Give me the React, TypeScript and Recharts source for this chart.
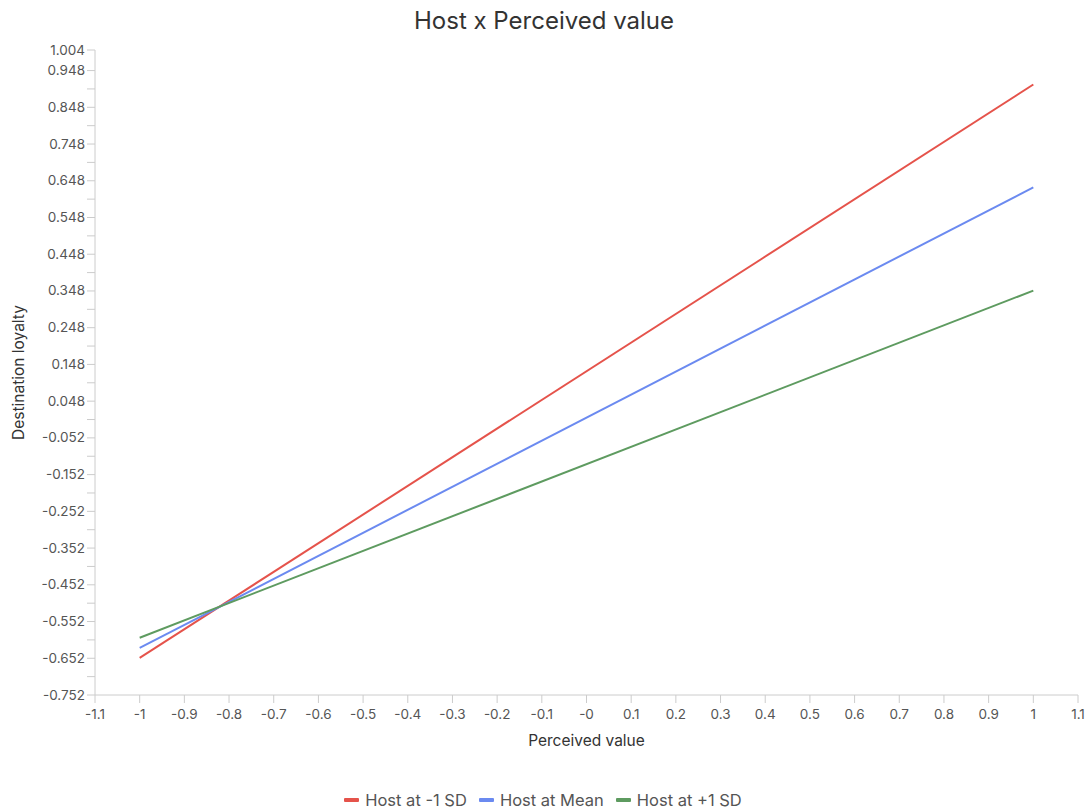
import { LineChart, Line, XAxis, YAxis, Legend } from "recharts";

// Perceived value at the two ends of each simple slope
const perceived = [-1, 1];
const hostLow = [-0.651, 0.91];
const hostMean = [-0.624, 0.63];
const hostHigh = [-0.596, 0.349];

const xTicks = [
  -1.1, -1, -0.9, -0.8, -0.7, -0.6, -0.5, -0.4, -0.3, -0.2, -0.1, 0, 0.1, 0.2,
  0.3, 0.4, 0.5, 0.6, 0.7, 0.8, 0.9, 1, 1.1,
];
const xTickLabels = [
  "-1.1", "-1", "-0.9", "-0.8", "-0.7", "-0.6", "-0.5", "-0.4", "-0.3", "-0.2",
  "-0.1", "-0", "0.1", "0.2", "0.3", "0.4", "0.5", "0.6", "0.7", "0.8", "0.9",
  "1", "1.1",
];

const yMajorTicks = [
  -0.752, -0.652, -0.552, -0.452, -0.352, -0.252, -0.152, -0.052, 0.048, 0.148,
  0.248, 0.348, 0.448, 0.548, 0.648, 0.748, 0.848, 0.948, 1.004,
];
const yMinorTicks = [
  -0.702, -0.602, -0.502, -0.402, -0.302, -0.202, -0.102, -0.002, 0.098, 0.198,
  0.298, 0.398, 0.498, 0.598, 0.698, 0.798, 0.898,
];

const series = [
  { key: "low", name: "Host at -1 SD", color: "#e5534b", values: hostLow },
  { key: "mean", name: "Host at Mean", color: "#6b8af0", values: hostMean },
  { key: "high", name: "Host at +1 SD", color: "#5e9b60", values: hostHigh },
];

const data = perceived.map((x, i) => {
  const row: { [k: string]: number } = { x };
  series.forEach((s) => {
    row[s.key] = s.values[i];
  });
  return row;
});

const yTicks = [...yMajorTicks, ...yMinorTicks].sort((a, b) => a - b);

const FONT = "Inter, 'Noto Sans', sans-serif";
const AXIS = "#cccccc";
const TEXT = "#555555";

function YTick(props: any) {
  const { x, y, payload } = props;
  const v = payload.value as number;
  const major = yMajorTicks.some((m) => Math.abs(m - v) < 1e-6);
  if (!major) return <g />;
  return (
    <text x={x} y={y} dy={4.5} textAnchor="end" fill={TEXT} fontSize={13.5} fontFamily={FONT}>
      {v.toFixed(3)}
    </text>
  );
}

function XTick(props: any) {
  const { x, y, payload } = props;
  const idx = xTicks.findIndex((t) => Math.abs(t - payload.value) < 1e-6);
  return (
    <text x={x} y={y} dy={14} textAnchor="middle" fill={TEXT} fontSize={13.5} fontFamily={FONT}>
      {idx >= 0 ? xTickLabels[idx] : payload.value}
    </text>
  );
}

function LegendContent() {
  return (
    <div
      style={{
        display: "flex",
        justifyContent: "center",
        gap: 12,
        fontFamily: FONT,
        fontSize: 16.5,
        color: TEXT,
        height: 24,
        alignItems: "center",
        paddingLeft: 8,
      }}
    >
      {series.map((s) => (
        <div key={s.key} style={{ display: "flex", alignItems: "center", gap: 6 }}>
          <span style={{ display: "inline-block", width: 15, height: 4, background: s.color, borderRadius: 1 }} />
          <span>{s.name}</span>
        </div>
      ))}
    </div>
  );
}

export default function App() {
  return (
    <div style={{ position: "absolute", left: 0, top: 0, width: 1088, height: 812, background: "#fff" }}>
      <div
        style={{
          position: "absolute",
          top: 6,
          left: 0,
          width: 1088,
          textAlign: "center",
          fontFamily: FONT,
          fontSize: 24,
          color: "#333",
        }}
      >
        Host x Perceived value
      </div>
      <LineChart
        width={1088}
        height={812}
        data={data}
        margin={{ top: 50, right: 10, bottom: 0, left: 0 }}
      >
        <XAxis
          dataKey="x"
          type="number"
          domain={[-1.1, 1.1]}
          ticks={xTicks}
          interval={0}
          height={93}
          stroke={AXIS}
          tickLine={{ stroke: AXIS }}
          tickSize={8}
          tick={<XTick />}
          label={{
            value: "Perceived value",
            position: "insideTop",
            offset: 40,
            fill: "#333",
            fontSize: 15.5,
            fontFamily: FONT,
          }}
        />
        <YAxis
          type="number"
          domain={[-0.752, 1.004]}
          ticks={yTicks}
          interval={0}
          width={95}
          stroke={AXIS}
          tickLine={{ stroke: AXIS }}
          tickSize={8}
          tick={<YTick />}
          label={{
            content: (p: any) => {
              const vb = p.viewBox;
              const cy = vb.y + vb.height / 2;
              return (
                <text
                  x={18}
                  y={cy}
                  transform={`rotate(-90, 18, ${cy})`}
                  textAnchor="middle"
                  dominantBaseline="central"
                  fill="#333"
                  fontSize={15.5}
                  fontFamily={FONT}
                >
                  Destination loyalty
                </text>
              );
            },
          }}
        />
        <Legend verticalAlign="bottom" content={<LegendContent />} />
        {series.map((s) => (
          <Line
            key={s.key}
            dataKey={s.key}
            name={s.name}
            stroke={s.color}
            strokeWidth={2}
            dot={false}
            type="linear"
            isAnimationActive={false}
          />
        ))}
      </LineChart>
    </div>
  );
}
